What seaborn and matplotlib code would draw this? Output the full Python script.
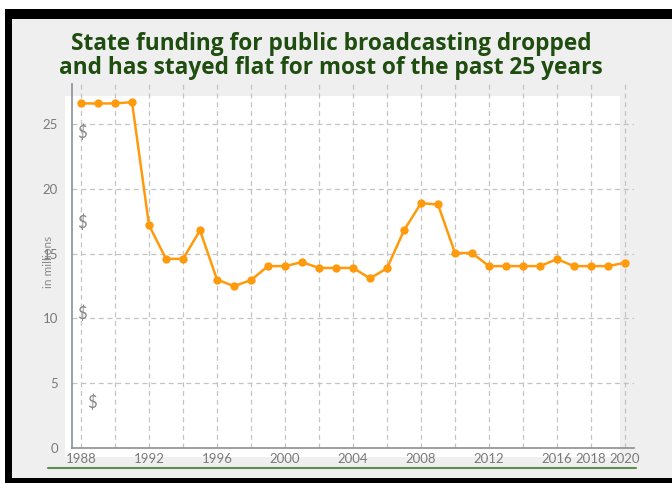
import matplotlib
matplotlib.use("Agg")
import matplotlib.pyplot as plt
import seaborn as sns
import pandas as pd
from matplotlib.patches import Rectangle
from matplotlib.lines import Line2D

# Data (millions of dollars)
years = list(range(1988, 2021))
funding = [26.6, 26.6, 26.6, 26.7, 17.2, 14.6, 14.6, 16.8, 13.0, 12.5,
           12.96, 14.04, 14.04, 14.35, 13.9, 13.9, 13.9, 13.1, 13.87, 16.8,
           18.9, 18.8, 15.05, 15.05, 14.04, 14.04, 14.04, 14.04, 14.58, 14.04,
           14.04, 14.04, 14.3]
xtick_labels = [1988, 1992, 1996, 2000, 2004, 2008, 2012, 2016, 2018, 2020]
ytick_values = [0, 5, 10, 15, 20, 25]
title = "State funding for public broadcasting dropped\nand has stayed flat for most of the past 25 years"

df = pd.DataFrame({"year": years, "funding": funding})

sns.set_theme(style="white")
plt.rcParams['font.family'] = ['Lato', 'DejaVu Sans']

W, H = 672, 483
fig = plt.figure(figsize=(W / 100, H / 100), dpi=100)
fig.patch.set_facecolor("white")

def fx(px):
    return px / W

def fy(py):
    return 1 - py / H

# black frame + light gray card
fig.add_artist(Rectangle((fx(5), 0), 1, fy(9), transform=fig.transFigure,
                         facecolor="black", edgecolor="none", zorder=0))
fig.add_artist(Rectangle((fx(12), fy(478)), 1, fy(19) - fy(478), transform=fig.transFigure,
                         facecolor="#efefef", edgecolor="none", zorder=0))
# white plot panel
fig.add_artist(Rectangle((fx(65), fy(457)), fx(620) - fx(65), fy(96) - fy(457),
                         transform=fig.transFigure, facecolor="white", edgecolor="none", zorder=0))

ax = fig.add_axes([fx(72), fy(448), fx(634) - fx(72), fy(84) - fy(448)])
ax.patch.set_alpha(0)

sns.lineplot(data=df, x="year", y="funding", ax=ax, color="#ff9a0d", linewidth=1.8,
             marker="o", markersize=6, markeredgewidth=0, zorder=3)

ax.set_xlim(1987.47, 2020.53)
ax.set_ylim(0, 28.1)
ax.set_xticks(range(1988, 2021, 2), minor=False)
ax.set_xticklabels([str(y) if y in xtick_labels else "" for y in range(1988, 2021, 2)])
ax.set_yticks(ytick_values)
ax.set_yticklabels([str(v) for v in ytick_values])
ax.grid(True, color="#c4c4c4", linestyle=(0, (4, 3)), linewidth=0.9)
ax.tick_params(axis="both", length=0, labelsize=9.5, colors="#7a7a7a")
ax.tick_params(axis="y", pad=10)
ax.tick_params(axis="x", pad=3.5)
ax.set_xlabel("")
ax.set_ylabel("")
for side in ["top", "right"]:
    ax.spines[side].set_visible(False)
for side in ["left", "bottom"]:
    ax.spines[side].set_color("#8a9096")
    ax.spines[side].set_linewidth(1.2)

# axis label and stray dollar signs
fig.text(fx(49), fy(262), "in millions", rotation=90, ha="center", va="center",
         fontsize=8.5, color="#8a8a8a")
for px, py in [(82, 133), (82, 223), (82, 314), (92, 403)]:
    fig.text(fx(px), fy(py), "$", ha="center", va="center", fontsize=12, color="#888888")

# green rule under the axis
fig.add_artist(Line2D([fx(48), fx(636)], [fy(467.5), fy(467.5)], transform=fig.transFigure,
                      color="#5e8f4e", linewidth=1.5))

fig.text(fx(331), fy(56), title, ha="center", va="center", fontsize=16.3,
         fontweight="bold", color="#1f4d10", linespacing=1.02,
         family=["Open Sans", "DejaVu Sans"])

fig.savefig("out.png", dpi=100)
